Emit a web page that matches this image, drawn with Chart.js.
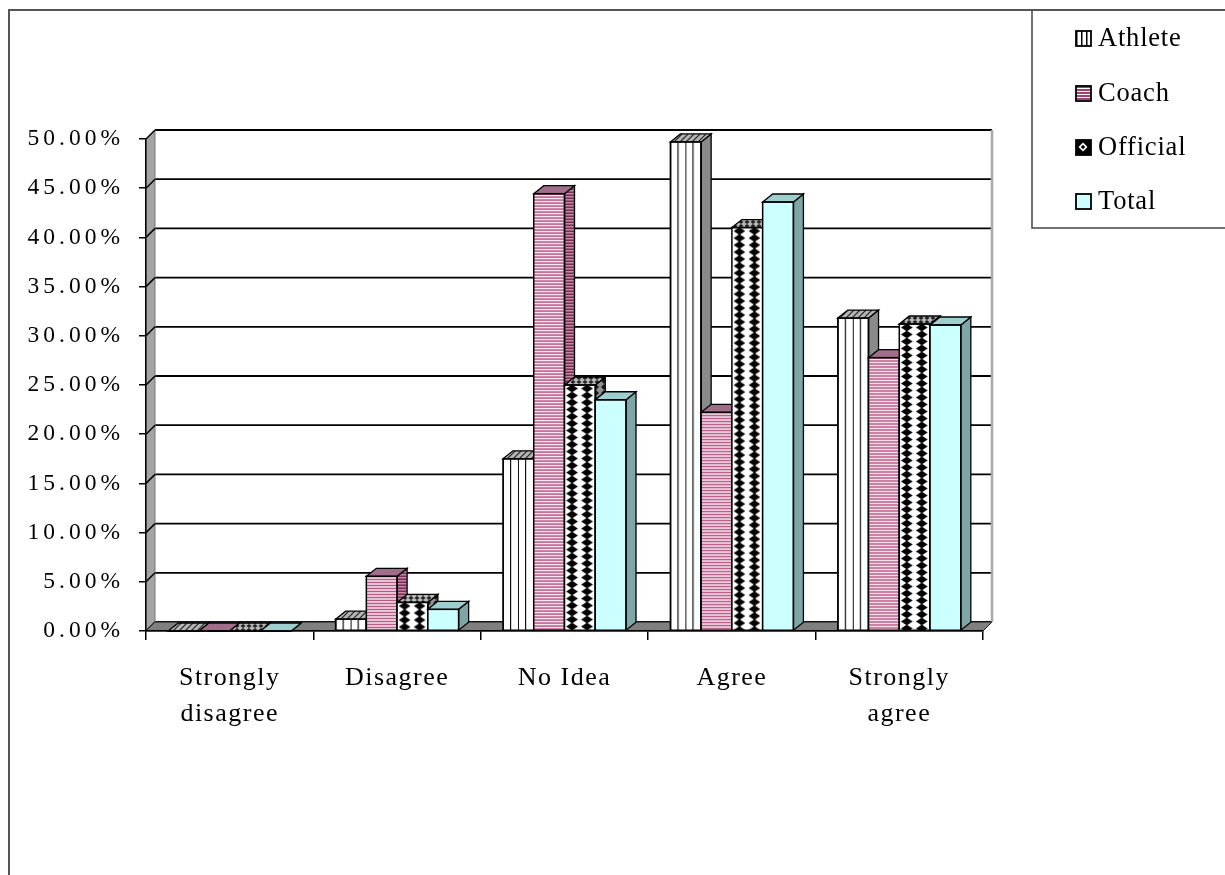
<!DOCTYPE html>
<html>
<head>
<meta charset="utf-8">
<title>Survey responses by group</title>
<script src="https://cdn.jsdelivr.net/npm/chart.js@4.4.1/dist/chart.umd.min.js"></script>
<style>
  html, body { margin: 0; padding: 0; background: #ffffff; }
  canvas { display: block; }
</style>
</head>
<body>
<canvas id="chart" width="1225" height="875"></canvas>
<script>
// ---- data -------------------------------------------------------------
const categories = [['Strongly', 'disagree'], 'Disagree', 'No Idea', 'Agree', ['Strongly', 'agree']];
const seriesNames = ['Athlete', 'Coach', 'Official', 'Total'];
const athleteValues  = [0, 1.2, 17.5, 49.7, 31.8];
const coachValues    = [0, 5.56, 44.44, 22.22, 27.78];
const officialValues = [0, 2.9, 25.0, 41.0, 31.2];
const totalValues    = [0, 2.2, 23.5, 43.6, 31.1];
const yMax = 50;
const yStep = 5;
const formatPercent = v => v.toFixed(2) + '%';

// ---- fill patterns ----------------------------------------------------
function tile(w, h, paint) {
  const c = document.createElement('canvas');
  c.width = w; c.height = h;
  const g = c.getContext('2d');
  paint(g, w, h);
  return g.createPattern(c, 'repeat');
}
function diamond(g, cx, cy, hw, hh, color) {
  g.fillStyle = color;
  g.beginPath();
  g.moveTo(cx, cy - hh); g.lineTo(cx + hw, cy); g.lineTo(cx, cy + hh); g.lineTo(cx - hw, cy);
  g.closePath(); g.fill();
}

const fills = {
  athlete: {
    front: tile(15, 1, (g) => {
      g.fillStyle = '#fff'; g.fillRect(0, 0, 15, 1);
      g.fillStyle = '#111'; g.fillRect(0, 0, 1, 1); g.fillRect(7, 0, 1.2, 1);
    }),
    top: tile(6, 6, (g) => {
      g.fillStyle = '#b4b4b4'; g.fillRect(0, 0, 6, 6);
      g.strokeStyle = '#222'; g.lineWidth = 1.2;
      g.beginPath(); g.moveTo(-1, 7); g.lineTo(7, -1); g.moveTo(5, 7); g.lineTo(13, -1); g.moveTo(-7, 7); g.lineTo(1, -1); g.stroke();
    }),
    side: '#8a8a8a'
  },
  coach: {
    front: tile(1, 3, (g) => {
      g.fillStyle = '#a3406f'; g.fillRect(0, 0, 1, 1);
      g.fillStyle = '#ffffff'; g.fillRect(0, 1, 1, 1);
      g.fillStyle = '#e4a2c1'; g.fillRect(0, 2, 1, 1);
    }),
    top: '#a06d8a',
    side: tile(1, 3, (g) => {
      g.fillStyle = '#7a2d55'; g.fillRect(0, 0, 1, 1);
      g.fillStyle = '#c08aa6'; g.fillRect(0, 1, 1, 1);
      g.fillStyle = '#9e5a7d'; g.fillRect(0, 2, 1, 1);
    })
  },
  official: {
    front: tile(15, 7, (g) => {
      g.fillStyle = '#fff'; g.fillRect(0, 0, 15, 7);
      diamond(g, 7.5, 3.5, 5.8, 3.9, '#000');
    }),
    top: tile(6, 4, (g) => { g.fillStyle = '#b8b8b8'; g.fillRect(0, 0, 6, 4); diamond(g, 3, 2, 2.5, 2, '#222'); }),
    side: tile(8, 6, (g) => { g.fillStyle = '#929292'; g.fillRect(0, 0, 8, 6); diamond(g, 4, 3, 3, 3, '#1a1a1a'); })
  },
  total: { front: '#ccffff', top: '#9dcfcf', side: '#7fa6a6' }
};
const seriesFills = [fills.athlete, fills.coach, fills.official, fills.total];
const seriesValues = [athleteValues, coachValues, officialValues, totalValues];

// small legend keys
const legendKeys = [
  tile(5, 1, (g) => { g.fillStyle = '#fff'; g.fillRect(0, 0, 5, 1); g.fillStyle = '#000'; g.fillRect(0, 0, 1.5, 1); }),
  tile(1, 3, (g) => { g.fillStyle = '#a3406f'; g.fillRect(0, 0, 1, 2); g.fillStyle = '#fff'; g.fillRect(0, 2, 1, 1); }),
  tile(14, 14, (g) => { g.fillStyle = '#000'; g.fillRect(0, 0, 14, 14); diamond(g, 7, 7, 4.5, 4.5, '#fff'); diamond(g, 7, 7, 2.2, 2.2, '#000'); }),
  '#ccffff'
];

function anchor(fill, x, y) {
  if (fill && typeof fill.setTransform === 'function') {
    fill.setTransform(new DOMMatrix([1, 0, 0, 1, x, y]));
  }
}

// ---- geometry of the box ------------------------------------------------
const WALL_DX = 9, WALL_DY = 9;   // depth of walls / floor
const BAR_DX = 10, BAR_DY = 8;    // depth of each column
const serif = 'Liberation Serif, "Times New Roman", serif';

function poly(ctx, pts, fill, stroke, lw) {
  ctx.beginPath();
  ctx.moveTo(pts[0][0], pts[0][1]);
  for (let i = 1; i < pts.length; i++) ctx.lineTo(pts[i][0], pts[i][1]);
  ctx.closePath();
  if (fill) { ctx.fillStyle = fill; ctx.fill(); }
  if (stroke) { ctx.strokeStyle = stroke; ctx.lineWidth = lw || 1; ctx.stroke(); }
}

const spacedLabels = {
  id: 'spacedLabels',
  beforeDraw(chart) {
    const spacing = { x: '1.5px', y: '4px' };
    Object.keys(spacing).forEach(id => {
      const s = chart.scales[id];
      if (!s || s._spaced) return;
      const orig = s.drawLabels.bind(s);
      s.drawLabels = function (area) {
        const c = this.ctx;
        c.save();
        c.letterSpacing = spacing[id];
        orig(area);
        c.restore();
      };
      s._spaced = true;
    });
  }
};

const box3d = {
  id: 'box3d',
  beforeDraw(chart) {
    const { ctx, chartArea: a, scales: { y } } = chart;
    ctx.save();
    // back wall grid lines
    ctx.strokeStyle = '#000';
    ctx.lineWidth = 1.8;
    y.ticks.forEach(t => {
      const py = y.getPixelForValue(t.value) - WALL_DY;
      ctx.beginPath();
      ctx.moveTo(a.left + WALL_DX, py);
      ctx.lineTo(a.right + WALL_DX, py);
      ctx.stroke();
    });
    // right edge of the back wall
    ctx.strokeStyle = '#a8a8a8';
    ctx.lineWidth = 2.5;
    ctx.beginPath();
    ctx.moveTo(a.right + WALL_DX, a.top - WALL_DY);
    ctx.lineTo(a.right + WALL_DX, a.bottom - WALL_DY);
    ctx.stroke();
    // left side wall
    poly(ctx, [[a.left, a.top], [a.left + WALL_DX, a.top - WALL_DY], [a.left + WALL_DX, a.bottom - WALL_DY], [a.left, a.bottom]], '#a4a4a4', '#777', 1);
    ctx.strokeStyle = '#000';
    ctx.lineWidth = 1.5;
    y.ticks.forEach(t => {
      const py = y.getPixelForValue(t.value);
      ctx.beginPath();
      ctx.moveTo(a.left, py);
      ctx.lineTo(a.left + WALL_DX, py - WALL_DY);
      ctx.stroke();
    });
    // floor
    poly(ctx, [[a.left, a.bottom], [a.right, a.bottom], [a.right + WALL_DX, a.bottom - WALL_DY], [a.left + WALL_DX, a.bottom - WALL_DY]], '#7f7f7f', '#222', 1);
    ctx.restore();
  },
  afterDatasetsDraw(chart) {
    const ctx = chart.ctx;
    ctx.save();
    for (let di = 0; di < seriesNames.length; di++) {
      const meta = chart.getDatasetMeta(di);
      const f = seriesFills[di];
      meta.data.forEach(bar => {
        const { x, y, base, width } = bar.getProps(['x', 'y', 'base', 'width'], true);
        const l = x - width / 2, r = x + width / 2;
        // front face, with its pattern anchored to the column's corner
        anchor(f.front, l, y);
        bar.draw(ctx);
        // side face
        poly(ctx, [[r, y], [r + BAR_DX, y - BAR_DY], [r + BAR_DX, base - BAR_DY], [r, base]], f.side, '#000', 1.3);
        // top face
        poly(ctx, [[l, y], [l + BAR_DX, y - BAR_DY], [r + BAR_DX, y - BAR_DY], [r, y]], f.top, '#000', 1.3);
        // front outline
        ctx.strokeStyle = '#000';
        ctx.lineWidth = 1.5;
        ctx.strokeRect(l, y, width, base - y);
      });
    }
    ctx.restore();
  },
  afterDraw(chart) {
    const ctx = chart.ctx;
    ctx.save();
    // chart frame
    ctx.strokeStyle = '#555';
    ctx.lineWidth = 2;
    ctx.beginPath();
    ctx.moveTo(9, 875); ctx.lineTo(9, 10); ctx.lineTo(1225, 10);
    ctx.stroke();
    // legend box
    ctx.strokeStyle = '#444';
    ctx.lineWidth = 1.5;
    ctx.beginPath();
    ctx.moveTo(1032, 10); ctx.lineTo(1032, 228); ctx.lineTo(1225, 228);
    ctx.stroke();
    const rows = [38, 93, 147, 201];
    ctx.font = '26.5px ' + serif;
    ctx.textBaseline = 'middle';
    ctx.textAlign = 'left';
    ctx.letterSpacing = '0.8px';
    chart.data.datasets.forEach((ds, i) => {
      const cy = rows[i];
      const key = legendKeys[i];
      anchor(key, 1076, cy - 7);
      ctx.fillStyle = key;
      ctx.fillRect(1076, cy - 7, 15, 15);
      ctx.strokeStyle = '#000';
      ctx.lineWidth = 1.8;
      ctx.strokeRect(1076, cy - 7, 15, 15);
      ctx.fillStyle = '#000';
      ctx.fillText(ds.label, 1098, cy + 1);
    });
    ctx.restore();
  }
};

// ---- chart ------------------------------------------------------------
new Chart(document.getElementById('chart'), {
  type: 'bar',
  data: {
    labels: categories,
    datasets: seriesNames.map((name, i) => ({
      label: name,
      data: seriesValues[i],
      backgroundColor: seriesFills[i].front,
      borderColor: '#000',
      borderWidth: 0,
      categoryPercentage: 0.735,
      barPercentage: 1.0
    }))
  },
  options: {
    responsive: false,
    animation: false,
    devicePixelRatio: 1,
    layout: { padding: { left: 0, top: 139, right: 242, bottom: 0 } },
    plugins: { legend: { display: false }, tooltip: { enabled: false } },
    scales: {
      x: {
        grid: { drawOnChartArea: false, drawTicks: true, tickLength: 9, color: '#000', lineWidth: 1.5, offset: true },
        border: { display: true, color: '#000', width: 1.5 },
        ticks: {
          font: { family: serif, size: 26, lineHeight: 1.38 },
          color: '#000', padding: 20, maxRotation: 0, autoSkip: false
        },
        afterFit: s => { s.height = 244; }
      },
      y: {
        min: 0, max: yMax,
        ticks: { stepSize: yStep, callback: v => formatPercent(v), font: { family: serif, size: 23.5 }, color: '#000', padding: 15 },
        grid: { drawOnChartArea: false, drawTicks: true, tickLength: 7, color: '#000', lineWidth: 1.5 },
        border: { display: true, color: '#000', width: 1.5 },
        afterFit: s => { s.width = 146; }
      }
    }
  },
  plugins: [spacedLabels, box3d]
});
</script>
</body>
</html>
